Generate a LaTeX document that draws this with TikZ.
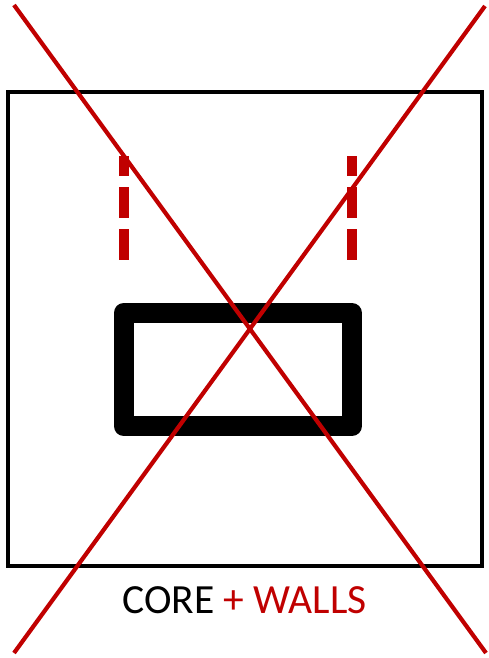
\documentclass[tikz,border=0pt]{standalone}
\usepackage{fontspec}
\setmainfont{Carlito}
\definecolor{offred}{HTML}{C00000}
\begin{document}
\begin{tikzpicture}[x=1pt,y=-1pt,
  frame/.style={draw=black,line width=4pt},
  wallmark/.style={draw=offred,line width=10pt,dash pattern=on 31pt off 11pt,dash phase=11pt},
  corebox/.style={draw=black,line width=20pt,line join=round},
  cross/.style={draw=offred,line width=4.2pt}]
\useasboundingbox (0,0) rectangle (489,658);
\draw[frame] (7.5,92.5) rectangle (481.5,565.5);
\draw[wallmark] (123.5,156) -- (123.5,260);
\draw[wallmark] (352,156) -- (352,260);
\draw[corebox] (123.5,313) rectangle (352,426);
\node[anchor=base,inner sep=0pt,font=\fontsize{41.5}{48}\selectfont] (lbl) at (244.5,613) {CORE \textcolor{offred}{+ WALLS}};
\draw[cross] (14,5) -- (486,653);
\draw[cross] (485,6) -- (14,653);
\end{tikzpicture}
\end{document}
